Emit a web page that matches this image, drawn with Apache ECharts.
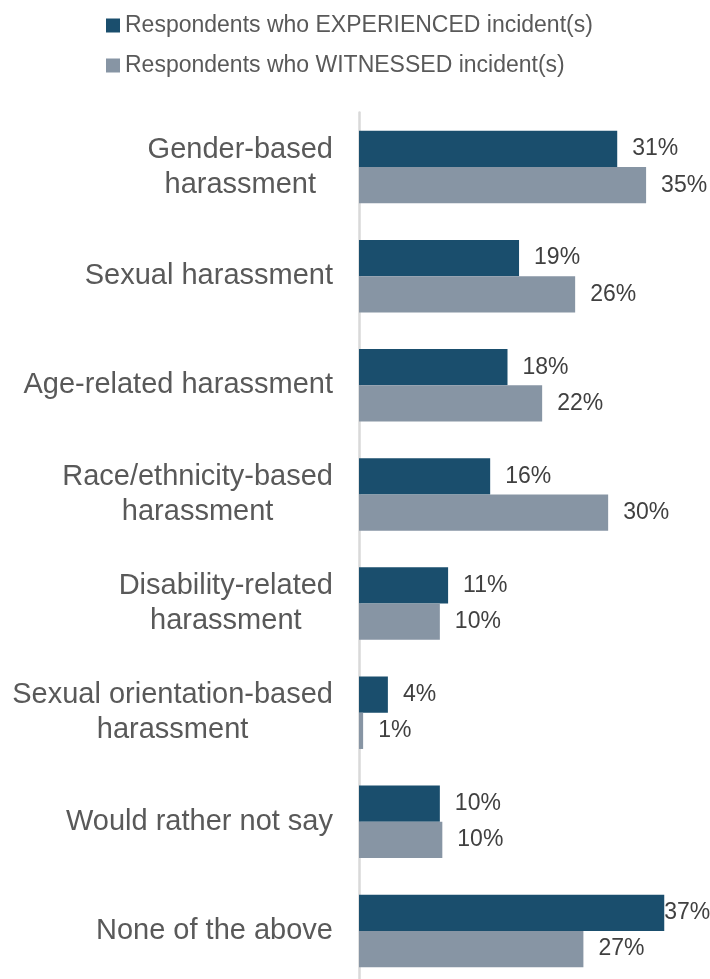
<!DOCTYPE html>
<html>
<head>
<meta charset="utf-8">
<script src="https://cdn.jsdelivr.net/npm/echarts@6/dist/echarts.min.js"></script>
<style>
html,body{margin:0;padding:0;background:#fff;}
#chart{width:710px;height:979px;}
</style>
</head>
<body>
<div id="chart"></div>
<script>
const categories = [
  'Gender-based\nharassment',
  'Sexual harassment',
  'Age-related harassment',
  'Race/ethnicity-based\nharassment',
  'Disability-related\nharassment',
  'Sexual orientation-based\nharassment',
  'Would rather not say',
  'None of the above'
];
const seriesNames = ['Respondents who EXPERIENCED incident(s)', 'Respondents who WITNESSED incident(s)'];
const experienced = [31.3, 19.4, 18.0, 15.9, 10.8, 3.5, 9.8, 37.0];
const witnessed = [34.8, 26.2, 22.2, 30.2, 9.8, 0.5, 10.1, 27.2];

const FONT = '"Liberation Sans", Arial, Helvetica, sans-serif';
const chart = echarts.init(document.getElementById('chart'), null, {renderer: 'canvas'});

function labelFmt(p) { return Math.round(p.value) + '%'; }
const maxIdx = experienced.indexOf(Math.max.apply(null, experienced));

const option = {
  animation: false,
  backgroundColor: '#ffffff',
  legend: {
    orient: 'vertical',
    left: 101,
    top: 9,
    padding: 5,
    itemWidth: 14,
    itemHeight: 14,
    itemGap: 17,
    icon: 'rect',
    textStyle: {fontSize: 23, lineHeight: 23, color: '#595959', fontFamily: FONT},
    data: seriesNames
  },
  grid: {left: 359, width: 330, top: 112.5, height: 873, containLabel: false, outerBoundsMode: 'none'},
  xAxis: {
    type: 'value', min: 0, max: 40,
    show: false
  },
  yAxis: {
    type: 'category',
    inverse: true,
    data: categories,
    axisLine: {show: true, lineStyle: {color: '#d9d9d9', width: 2.5}},
    axisTick: {show: false},
    splitLine: {show: false},
    axisLabel: {
      margin: 26,
      align: 'right',
      fontSize: 29,
      color: '#595959',
      fontFamily: FONT,
      formatter: function (v) {
        return v.split('\n').map(function (l) { return '{c|' + l + '}'; }).join('\n');
      },
      rich: {
        c: {align: 'center', fontSize: 29, lineHeight: 35, color: '#595959', fontFamily: FONT}
      }
    }
  },
  series: [
    {
      name: seriesNames[0],
      type: 'bar',
      barGap: '0%',
      barCategoryGap: '33.5%',
      itemStyle: {color: '#1a4e6d'},
      label: {show: true, position: 'right', distance: 15, formatter: labelFmt,
        fontSize: 23, color: '#404040', fontFamily: FONT},
      data: experienced.map(function (v, i) {
        return i === maxIdx ? {value: v, label: {distance: 0}} : v;
      })
    },
    {
      name: seriesNames[1],
      type: 'bar',
      barGap: '0%',
      barCategoryGap: '33.5%',
      itemStyle: {color: '#8795a4'},
      label: {show: true, position: 'right', distance: 15, formatter: labelFmt,
        fontSize: 23, color: '#404040', fontFamily: FONT},
      data: witnessed
    }
  ]
};
chart.setOption(option);
</script>
</body>
</html>
